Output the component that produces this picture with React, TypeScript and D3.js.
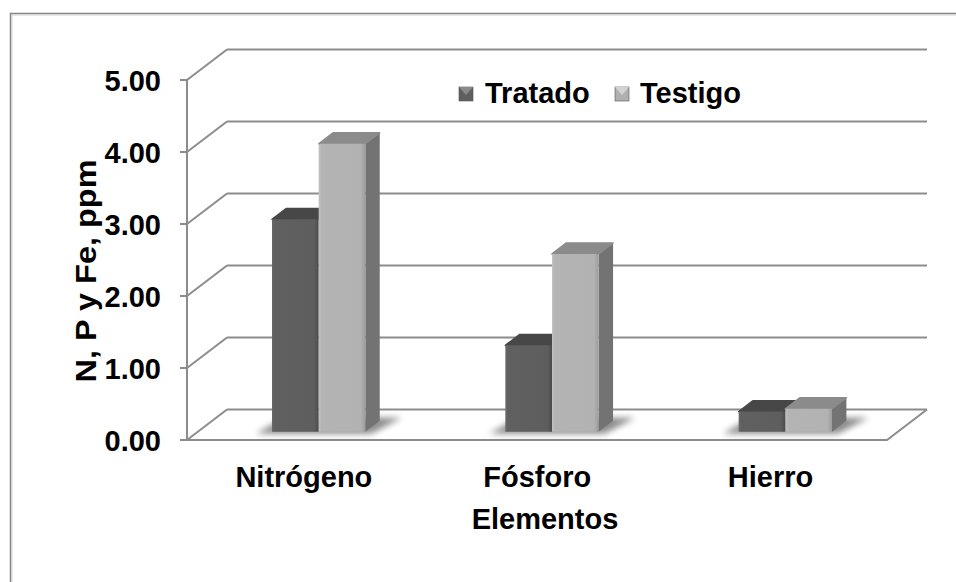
import React from "react";
import * as d3 from "d3";

const categories = ["Nitrógeno", "Fósforo", "Hierro"];
const seriesNames = ["Tratado", "Testigo"];
const tratado = [2.95, 1.2, 0.28];
const testigo = [4.0, 2.47, 0.32];
const yTicks = [0, 1, 2, 3, 4, 5];

const W = 956;
const H = 582;
const FONT = "'Liberation Sans', Arial, sans-serif";

// depth direction of the 3D box (full floor depth)
const DX = 40;
const DY = -30.5;
// bar depth slab within the floor
const Z0 = 0.27;
const Z1 = 0.63;

const palette = {
  Tratado: { front: "url(#gTratado)", top: "#474747", side: "#3f3f3f" },
  Testigo: { front: "url(#gTestigo)", top: "#8b8b8b", side: "#737373" },
} as Record<string, { front: string; top: string; side: string }>;

export default function App() {
  const x = d3
    .scaleBand<string>()
    .domain(categories)
    .range([187, 887])
    .paddingInner(0.6)
    .paddingOuter(0.3)
    .align(0.53);
  const xs = d3.scaleBand<string>().domain(seriesNames).range([0, x.bandwidth()]);
  const y = d3.scaleLinear().domain([0, 5]).range([440, 80]);

  const [x0, x1] = x.range();
  const P = (px: number, v: number, z: number): [number, number] => [px + z * DX, y(v) + z * DY];
  const poly = (pts: [number, number][]) => pts.map((p) => p.join(",")).join(" ");

  const values: Record<string, number[]> = { Tratado: tratado, Testigo: testigo };

  return (
    <svg
      width={W}
      height={H}
      style={{ position: "absolute", left: 0, top: 0, background: "#fff" }}
      fontFamily={FONT}
    >
      <defs>
        <linearGradient id="gTratado" x1="0" x2="1" y1="0" y2="0">
          <stop offset="0" stopColor="#686868" />
          <stop offset="0.06" stopColor="#606060" />
          <stop offset="0.9" stopColor="#5e5e5e" />
          <stop offset="1" stopColor="#4c4c4c" />
        </linearGradient>
        <linearGradient id="gTestigo" x1="0" x2="1" y1="0" y2="0">
          <stop offset="0" stopColor="#c2c2c2" />
          <stop offset="0.06" stopColor="#b4b4b4" />
          <stop offset="0.9" stopColor="#b2b2b2" />
          <stop offset="1" stopColor="#9c9c9c" />
        </linearGradient>
        <filter id="soft" x="-30%" y="-100%" width="160%" height="300%">
          <feGaussianBlur stdDeviation="3" />
        </filter>
      </defs>

      {/* chart frame */}
      <rect x={10.5} y={13.5} width={1000} height={1000} fill="none" stroke="#858585" strokeWidth={1.5} />
      <rect x={12} y={15} width={1000} height={1000} fill="none" stroke="#cfcfcf" strokeWidth={1} />

      {/* walls: side-wall diagonals and back-wall gridlines */}
      <g stroke="#8c8c8c" strokeWidth={2} fill="none">
        {yTicks.map((t) => {
          const a = P(x0, t, 0);
          const b = P(x0, t, 1);
          const c = P(x1, t, 1);
          return (
            <g key={t}>
              <line x1={a[0]} y1={a[1]} x2={b[0]} y2={b[1]} />
              <line x1={b[0]} y1={b[1]} x2={c[0]} y2={c[1]} />
            </g>
          );
        })}
        {/* floor front edge and right edge */}
        <polyline points={poly([P(x0, 0, 0), P(x1, 0, 0), P(x1, 0, 1)])} />
        {/* value axis */}
        <line x1={x0} y1={y(0)} x2={x0} y2={y(5)} />
        {yTicks.map((t) => (
          <line key={t} x1={x0 - 7} y1={y(t)} x2={x0} y2={y(t)} />
        ))}
      </g>

      {/* bars */}
      {categories.map((cat, i) => {
        const bx0 = x(cat) as number;
        const bx1 = bx0 + x.bandwidth();
        const sh = [
          [P(bx0, 0, Z0)[0] - 16, P(bx0, 0, Z0)[1] + 2],
          [P(bx1, 0, Z0)[0] + 6, P(bx1, 0, Z0)[1] + 2],
          [P(bx1, 0, Z1)[0] + 22, P(bx1, 0, Z1)[1] - 3],
          [P(bx0, 0, Z1)[0] - 2, P(bx0, 0, Z1)[1] - 3],
        ] as [number, number][];
        return (
          <g key={cat}>
            <polygon points={poly(sh)} fill="#000" opacity={0.45} filter="url(#soft)" />
            {seriesNames.map((s) => {
              const v = values[s][i];
              const sx0 = bx0 + (xs(s) as number);
              const sx1 = sx0 + xs.bandwidth();
              const c = palette[s];
              return (
                <g key={s} strokeLinejoin="round">
                  <polygon
                    points={poly([P(sx1, 0, Z0), P(sx1, 0, Z1), P(sx1, v, Z1), P(sx1, v, Z0)])}
                    fill={c.side}
                  />
                  <polygon
                    points={poly([P(sx0, v, Z0), P(sx1, v, Z0), P(sx1, v, Z1), P(sx0, v, Z1)])}
                    fill={c.top}
                    stroke={c.top}
                    strokeWidth={1.5}
                  />
                  <polygon
                    points={poly([P(sx0, 0, Z0), P(sx1, 0, Z0), P(sx1, v, Z0), P(sx0, v, Z0)])}
                    fill={c.front}
                  />
                </g>
              );
            })}
          </g>
        );
      })}

      {/* value axis labels */}
      <g fontSize={29} fontWeight="bold" fill="#000" textAnchor="end">
        {yTicks.map((t) => (
          <text key={t} x={161} y={y(t) + 10.5}>
            {d3.format(".2f")(t)}
          </text>
        ))}
      </g>

      {/* category labels */}
      <g fontSize={29} fontWeight="bold" fill="#000" textAnchor="middle">
        {categories.map((cat) => (
          <text key={cat} x={(x(cat) as number) + x.bandwidth() / 2 - 4} y={487}>
            {cat}
          </text>
        ))}
      </g>

      {/* axis titles */}
      <text x={545} y={529} fontSize={29} fontWeight="bold" textAnchor="middle">
        Elementos
      </text>
      <text
        transform="translate(96,271) rotate(-90) scale(1.12,1)"
        fontSize={29}
        fontWeight="bold"
        textAnchor="middle"
      >
        N, P y Fe, ppm
      </text>

      {/* legend */}
      <g fontSize={29} fontWeight="bold">
        {[
          { name: "Tratado", sx: 459, tx: 485, base: "#5f5f5f", hi: "#8a8a8a" },
          { name: "Testigo", sx: 615, tx: 640, base: "#b0b0b0", hi: "#d2d2d2" },
        ].map((d) => (
          <g key={d.name}>
            <rect x={d.sx} y={87} width={14} height={14} fill={d.base} stroke="#555" strokeWidth={0.6} />
            <polygon points={poly([[d.sx, 87], [d.sx + 14, 87], [d.sx + 7, 95]])} fill={d.hi} />
            <text x={d.tx} y={103}>
              {d.name}
            </text>
          </g>
        ))}
      </g>
    </svg>
  );
}
